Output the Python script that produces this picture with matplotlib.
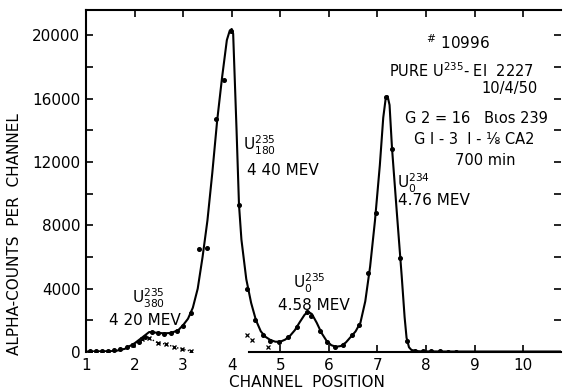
import numpy as np
import matplotlib.pyplot as plt

# measured points, U-235 spectrum (channel position, counts)
pts_x = [1.08, 1.21, 1.33, 1.46, 1.58, 1.71, 1.84, 1.97, 2.10, 2.22, 2.35, 2.48,
         2.61, 2.74, 2.87, 3.00, 3.16, 3.33, 3.49, 3.68, 3.84, 3.99, 4.15, 4.32,
         4.48, 4.64, 4.79, 4.97, 5.16, 5.35, 5.55, 5.63, 5.82, 5.96, 6.13, 6.29,
         6.48, 6.62, 6.81, 6.97, 7.18, 7.30, 7.47, 7.61, 7.78, 7.94, 8.10, 8.29,
         8.45, 8.62]
pts_y = [60, 60, 60, 80, 100, 200, 300, 420, 650, 950, 1250, 1200,
         1150, 1180, 1300, 1650, 2450, 6500, 6600, 14700, 17200, 20300, 9300, 3950,
         2000, 1100, 700, 650, 950, 1600, 2500, 2300, 1300, 650, 320, 450,
         1070, 1700, 4980, 8770, 16100, 12850, 5920, 700, 80, 60, 50, 40,
         30, 30]

# hand-drawn fit curve
fit_x = [1.0, 1.3, 1.6, 1.8, 2.0, 2.15, 2.3, 2.45, 2.6, 2.75, 2.9, 3.0, 3.1, 3.2,
         3.3, 3.4, 3.5, 3.6, 3.7, 3.8, 3.9, 3.96, 4.0, 4.03, 4.1, 4.15, 4.2, 4.3,
         4.4, 4.5, 4.6, 4.7, 4.8, 4.9, 5.0, 5.1, 5.2, 5.3, 5.4, 5.5, 5.57, 5.65,
         5.75, 5.85, 5.95, 6.05, 6.15, 6.25, 6.35, 6.45, 6.55, 6.65, 6.75, 6.85,
         6.95, 7.05, 7.12, 7.17, 7.21, 7.25, 7.3, 7.4, 7.5, 7.56, 7.6, 7.65, 7.7,
         7.8, 7.9, 8.5, 10.78]
fit_y = [30, 40, 60, 200, 550, 900, 1260, 1220, 1180, 1200, 1380, 1700, 2100, 2800,
         4000, 6000, 8300, 11300, 14600, 17300, 19700, 20300, 20400, 20100, 14000,
         9300, 7100, 4600, 3100, 2000, 1300, 950, 750, 650, 650, 780, 1020, 1380,
         1880, 2350, 2550, 2400, 1850, 1200, 720, 430, 330, 380, 600, 950, 1300,
         1850, 3200, 5400, 8300, 11800, 14800, 16000, 16150, 15600, 12900, 8800,
         4800, 2200, 900, 300, 130, 60, 40, 30, 30]

# U-235 (380 kev group) contribution, x symbols
sub_x = [1.97, 2.15, 2.30, 2.48, 2.65, 2.81, 2.97, 3.16]
sub_y = [440, 820, 880, 570, 500, 320, 190, 60]
# scattered tail marks to the right of the big peak
tail_x = [4.31, 4.42, 4.75]
tail_y = [1070, 760, 320]

xticks = list(range(1, 11))
yticks = list(range(0, 22000, 2000))

fig = plt.figure(figsize=(5.63, 3.91), dpi=100)
ax = fig.add_axes([86 / 563, 39 / 391, 475 / 563, 342 / 391])

ax.plot(fit_x, fit_y, color='black', lw=1.5)
ax.plot(pts_x, pts_y, 'o', color='black', ms=2.6)
ax.plot(sub_x, sub_y, ':', color='black', lw=1.0)
ax.plot(sub_x, sub_y, 'x', color='black', ms=3.5, mew=1.0)
ax.plot(tail_x, tail_y, 'x', color='black', ms=3.0, mew=0.9)
# dotted baseline where the axis line is missing
ax.plot([1.9, 4.35], [-80, -80], ':', color='black', lw=1.0)

ax.set_xlim(1, 10.78)
ax.set_ylim(0, 21600)

ax.set_xticks(xticks)
ax.set_xticklabels([str(t) for t in xticks])
ax.set_yticks(yticks)
ax.set_yticklabels([str(t) if t % 4000 == 0 else '' for t in yticks])
ax.tick_params(axis='both', direction='in', length=5, width=1.2, labelsize=11,
               top=True, right=True, pad=4)
for tk in ax.xaxis.get_major_ticks()[:4]:
    tk.tick1line.set_visible(False)

ax.spines['bottom'].set_bounds(4.35, 10.78)
for s in ax.spines.values():
    s.set_linewidth(1.5)
ax.spines['right'].set_visible(False)

ax.set_xlabel('CHANNEL  POSITION', fontsize=11)
ax.xaxis.set_label_coords(0.465, -0.066)
ax.set_ylabel('ALPHA-COUNTS  PER  CHANNEL', fontsize=11)
ax.yaxis.set_label_coords(-0.135, 0.345)

# peak labels
ax.text(1.95, 3400, r'U$^{235}_{380}$', fontsize=11, va='center')
ax.text(2.21, 2020, '4 20 MEV', fontsize=11, ha='center', va='center')
ax.text(4.23, 13060, r'U$^{235}_{180}$', fontsize=11, va='center')
ax.text(4.32, 11480, '4 40 MEV', fontsize=11, va='center')
ax.text(5.26, 4350, r'U$^{235}_{0}$', fontsize=11, va='center')
ax.text(5.70, 2960, '4.58 MEV', fontsize=11, ha='center', va='center')
ax.text(7.40, 10660, r'U$^{234}_{0}$', fontsize=11, va='center')
ax.text(7.43, 9590, '4.76 MEV', fontsize=11, va='center')

# run notes
ax.text(8.66, 19560, r'$^{\#}$ 10996', fontsize=11, ha='center', va='center')
ax.text(8.74, 17800, r'PURE U$^{235}$- EI  2227', fontsize=10.5, ha='center', va='center')
ax.text(10.29, 16660, '10/4/50', fontsize=10.5, ha='right', va='center')
ax.text(9.03, 14760, 'G 2 = 16   Bιos 239', fontsize=10.5, ha='center', va='center')
ax.text(9.00, 13440, 'G I - 3  I - ⅛ CA2', fontsize=10.5, ha='center', va='center')
ax.text(9.22, 12100, '700 min', fontsize=10.5, ha='center', va='center')

plt.savefig('out.png', dpi=100)
